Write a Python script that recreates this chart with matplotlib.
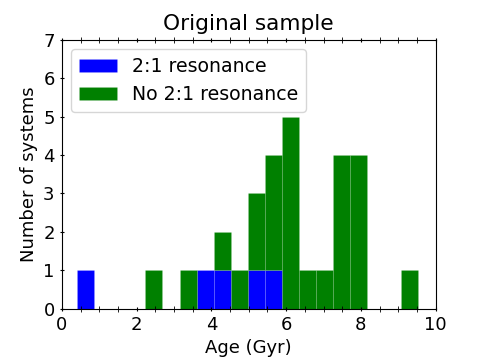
import numpy as np
import matplotlib
matplotlib.use('Agg')
import matplotlib.pyplot as plt
from matplotlib.ticker import MultipleLocator

# 20 equal-width bins between the youngest and oldest system
bin_edges = np.linspace(0.41, 9.53, 21)
res_counts = [1, 0, 0, 0, 0, 0, 0, 1, 1, 0, 1, 1, 0, 0, 0, 0, 0, 0, 0, 0]
nores_counts = [0, 0, 0, 0, 1, 0, 1, 0, 1, 1, 2, 3, 5, 1, 1, 4, 4, 0, 0, 1]
labels = ['2:1 resonance', 'No 2:1 resonance']

plt.rcParams['font.size'] = 13

centers = 0.5 * (bin_edges[:-1] + bin_edges[1:])
fig, ax = plt.subplots(figsize=(4.84, 3.63), dpi=100)
ax.hist([centers, centers], bins=bin_edges, weights=[res_counts, nores_counts],
        stacked=True, color=['blue', 'green'], label=labels,
        edgecolor=(1, 1, 1, 0.12), linewidth=0.5)

ax.set_xlim(0, 10)
ax.set_ylim(0, 7)
ax.xaxis.set_minor_locator(MultipleLocator(0.5))
ax.tick_params(which='both', direction='inout', top=True)
ax.tick_params(which='minor', length=4)
ax.set_xlabel('Age (Gyr)')
ax.set_ylabel('Number of systems')
ax.set_title('Original sample', pad=7)
ax.legend(loc='upper left', fontsize=13.6, borderaxespad=0.5)

fig.subplots_adjust(left=0.128, right=0.9, bottom=0.15, top=0.89)
plt.savefig('out.png')
